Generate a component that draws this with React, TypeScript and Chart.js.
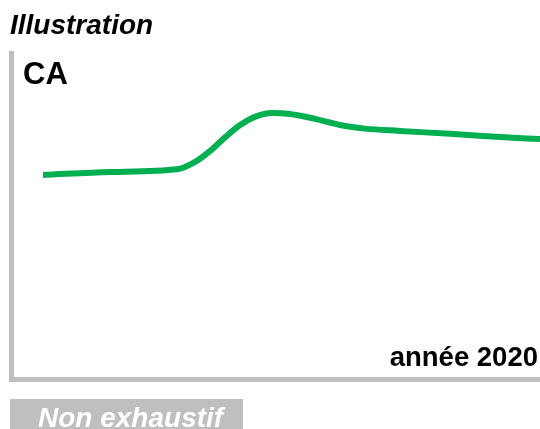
import React, { useEffect, useRef } from "react";
import { Chart, registerables } from "chart.js";

Chart.register(...registerables);

const periods: number[] = [
  6.05, 18.8, 31.6, 34.8, 37.6, 40.5, 43.3, 46.1, 49.3, 52.7, 57.5, 62.2, 66.9, 73.5, 83.0, 92.4, 100,
];
const caValues: number[] = [
  62.6, 63.5, 64.4, 66.6, 69.9, 74.2, 77.9, 80.4, 81.6, 81.3, 79.8, 77.9, 76.8, 76.1, 75.2, 74.2, 73.6,
];

const titleText = "Illustration";
const yLabel = "CA";
const xLabel = "année 2020";
const noteText = "Non exhaustif";

const FONT = '"Liberation Sans", Arial, sans-serif';

const textPlugin = {
  id: "texts",
  afterDraw(chart: any) {
    const ctx = chart.ctx as CanvasRenderingContext2D;
    ctx.save();
    ctx.textBaseline = "alphabetic";
    ctx.fillStyle = "#000000";
    ctx.textAlign = "left";
    ctx.font = `italic bold 28px ${FONT}`;
    ctx.fillText(titleText, 10, 34);
    ctx.font = `bold 31px ${FONT}`;
    ctx.fillText(yLabel, 23, 84);
    ctx.textAlign = "right";
    ctx.font = `bold 27.5px ${FONT}`;
    ctx.fillText(xLabel, 538, 366);
    ctx.fillStyle = "#bfbfbf";
    ctx.fillRect(10, 399, 233, 30);
    ctx.fillStyle = "#ffffff";
    ctx.textAlign = "left";
    ctx.font = `italic bold 28px ${FONT}`;
    ctx.fillText(noteText, 38, 427);
    ctx.restore();
  },
};

export default function App() {
  const ref = useRef<HTMLCanvasElement | null>(null);
  useEffect(() => {
    if (!ref.current) return;
    const chart = new Chart(ref.current, {
      type: "line",
      data: {
        datasets: [
          {
            label: yLabel,
            data: periods.map((x, i) => ({ x, y: caValues[i] })),
            borderColor: "#00b050",
            borderWidth: 6,
            pointRadius: 0,
            cubicInterpolationMode: "monotone",
            fill: false,
          },
        ],
      },
      options: {
        animation: false,
        responsive: true,
        maintainAspectRatio: false,
        layout: { padding: { left: 11, top: 53, right: 0, bottom: 50 } },
        plugins: {
          legend: { display: false },
          title: { display: false },
          tooltip: { enabled: false },
        },
        scales: {
          x: {
            type: "linear",
            min: 0,
            max: 100,
            ticks: { display: false },
            grid: { display: false, drawTicks: false },
            border: { display: true, color: "#bfbfbf", width: 5 },
          },
          y: {
            type: "linear",
            min: 0,
            max: 100,
            ticks: { display: false },
            grid: { display: false, drawTicks: false },
            border: { display: true, color: "#bfbfbf", width: 5 },
          },
        },
      },
      plugins: [textPlugin],
    });
    return () => chart.destroy();
  }, []);
  return (
    <div style={{ position: "absolute", left: 0, top: 0, width: 540, height: 429, background: "#ffffff" }}>
      <canvas ref={ref} />
    </div>
  );
}
